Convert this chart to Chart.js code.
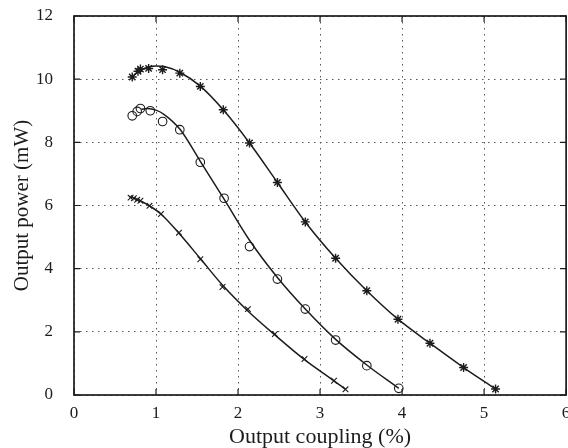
<!DOCTYPE html>
<html>
<head>
<meta charset="utf-8">
<script src="https://cdn.jsdelivr.net/npm/chart.js@4"></script>
<style>
  html, body { margin: 0; padding: 0; background: #fff; overflow: hidden; }
  #wrap { width: 568px; height: 448px; overflow: hidden; }
</style>
</head>
<body>
<div id="wrap"><canvas id="powerChart" width="572" height="448"></canvas></div>
<script>
// === DATA ===
const xTicks = [0, 1, 2, 3, 4, 5, 6];
const yTicks = [0, 2, 4, 6, 8, 10, 12];

// measured points, three series
const starX = [0.71, 0.78, 0.81, 0.91, 1.08, 1.29, 1.54, 1.82, 2.14, 2.48, 2.82, 3.19, 3.57, 3.95, 4.34, 4.75, 5.14];
const starY = [10.07, 10.25, 10.32, 10.34, 10.30, 10.19, 9.77, 9.03, 7.98, 6.73, 5.48, 4.33, 3.30, 2.40, 1.64, 0.87, 0.19];

const circleX = [0.71, 0.77, 0.81, 0.93, 1.08, 1.29, 1.54, 1.83, 2.14, 2.48, 2.82, 3.19, 3.57, 3.96];
const circleY = [8.84, 8.98, 9.07, 9.00, 8.66, 8.40, 7.37, 6.23, 4.70, 3.67, 2.72, 1.74, 0.93, 0.21];

const crossX = [0.69, 0.73, 0.77, 0.81, 0.92, 1.06, 1.28, 1.54, 1.81, 2.12, 2.45, 2.81, 3.17, 3.31];
const crossY = [6.25, 6.23, 6.18, 6.15, 5.99, 5.73, 5.14, 4.30, 3.42, 2.72, 1.93, 1.14, 0.45, 0.18];

// fitted curves (sampled along the drawn lines)
const starFitX = [0.71, 0.80, 0.90, 1.00, 1.10, 1.29, 1.54, 1.82, 2.14, 2.48, 2.82, 3.19, 3.57, 3.95, 4.34, 4.75, 5.14];
const starFitY = [10.07, 10.27, 10.38, 10.42, 10.40, 10.22, 9.78, 9.03, 7.98, 6.73, 5.48, 4.33, 3.30, 2.40, 1.64, 0.87, 0.19];

const circleFitX = [0.82, 0.90, 1.00, 1.10, 1.29, 1.54, 1.83, 2.14, 2.48, 2.82, 3.19, 3.57, 3.96];
const circleFitY = [9.05, 9.07, 9.02, 8.88, 8.42, 7.40, 6.20, 4.90, 3.72, 2.72, 1.76, 0.95, 0.21];

const crossFitX = [0.67, 0.80, 0.92, 1.06, 1.28, 1.54, 1.81, 2.12, 2.45, 2.81, 3.17, 3.31];
const crossFitY = [6.29, 6.16, 5.99, 5.73, 5.12, 4.32, 3.48, 2.66, 1.90, 1.12, 0.45, 0.18];

const INK = "#1c1c1c";
const SERIF = "'Liberation Serif', 'DejaVu Serif', serif";

function pts(xs, ys) {
  return xs.map((x, i) => ({ x: x, y: ys[i] }));
}

function markers(xs, ys, style, r, w) {
  return {
    data: pts(xs, ys),
    showLine: false,
    pointStyle: style,
    pointRadius: r,
    pointBorderColor: INK,
    pointBackgroundColor: "rgba(0,0,0,0)",
    pointBorderWidth: w
  };
}

function fitLine(xs, ys) {
  return {
    data: pts(xs, ys),
    showLine: true,
    borderColor: INK,
    borderWidth: 1.5,
    pointRadius: 0,
    cubicInterpolationMode: "monotone",
    fill: false
  };
}

// inward ticks + full box, gnuplot style
const frame = {
  id: "frame",
  afterDraw(chart) {
    const { ctx, chartArea: a, scales: { x, y } } = chart;
    ctx.save();
    ctx.strokeStyle = INK;
    ctx.lineWidth = 1.2;
    ctx.beginPath();
    xTicks.forEach(v => {
      const px = x.getPixelForValue(v);
      ctx.moveTo(px, a.bottom); ctx.lineTo(px, a.bottom - 6);
      ctx.moveTo(px, a.top); ctx.lineTo(px, a.top + 6);
    });
    yTicks.forEach(v => {
      const py = y.getPixelForValue(v);
      ctx.moveTo(a.left, py); ctx.lineTo(a.left + 6, py);
      ctx.moveTo(a.right, py); ctx.lineTo(a.right - 6, py);
    });
    ctx.stroke();
    ctx.lineWidth = 1.7;
    ctx.strokeRect(a.left, a.top, a.right - a.left, a.bottom - a.top);
    ctx.restore();
  }
};

new Chart(document.getElementById("powerChart"), {
  type: "scatter",
  data: {
    datasets: [
      fitLine(starFitX, starFitY),
      fitLine(circleFitX, circleFitY),
      fitLine(crossFitX, crossFitY),
      markers(starX, starY, "star", 4.5, 1.4),
      markers(circleX, circleY, "circle", 4.3, 1.1),
      markers(crossX, crossY, "crossRot", 4, 1.1)
    ]
  },
  options: {
    responsive: false,
    animation: false,
    layout: { padding: { top: 16, right: 2, left: 0, bottom: 0 } },
    plugins: { legend: { display: false }, tooltip: { enabled: false } },
    scales: {
      x: {
        type: "linear",
        min: 0,
        max: 6,
        afterBuildTicks: s => { s.ticks = xTicks.map(v => ({ value: v })); },
        afterFit: s => { s.height = 53; s.paddingLeft = 0; s.paddingRight = 0; },
        grid: { color: "#555", lineWidth: 1, drawTicks: false },
        border: { display: false, dash: [1.5, 4.5] },
        ticks: {
          color: INK,
          padding: 8,
          maxRotation: 0,
          font: { family: SERIF, size: 17 }
        },
        title: {
          display: true,
          text: "Output coupling (%)",
          color: INK,
          padding: { top: 0, bottom: 0 },
          font: { family: SERIF, size: 22, lineHeight: 1 }
        }
      },
      y: {
        type: "linear",
        min: 0,
        max: 12,
        afterBuildTicks: s => { s.ticks = yTicks.map(v => ({ value: v })); },
        afterFit: s => { s.width = 74; s.paddingTop = 0; s.paddingBottom = 0; },
        grid: { color: "#555", lineWidth: 1, drawTicks: false },
        border: { display: false, dash: [1.5, 4.5] },
        ticks: {
          color: INK,
          padding: 21,
          font: { family: SERIF, size: 17 }
        },
        title: {
          display: true,
          text: "Output power (mW)",
          color: INK,
          padding: { top: 12, bottom: 0 },
          font: { family: SERIF, size: 21, lineHeight: 1 }
        }
      }
    }
  },
  plugins: [frame]
});
</script>
</body>
</html>
